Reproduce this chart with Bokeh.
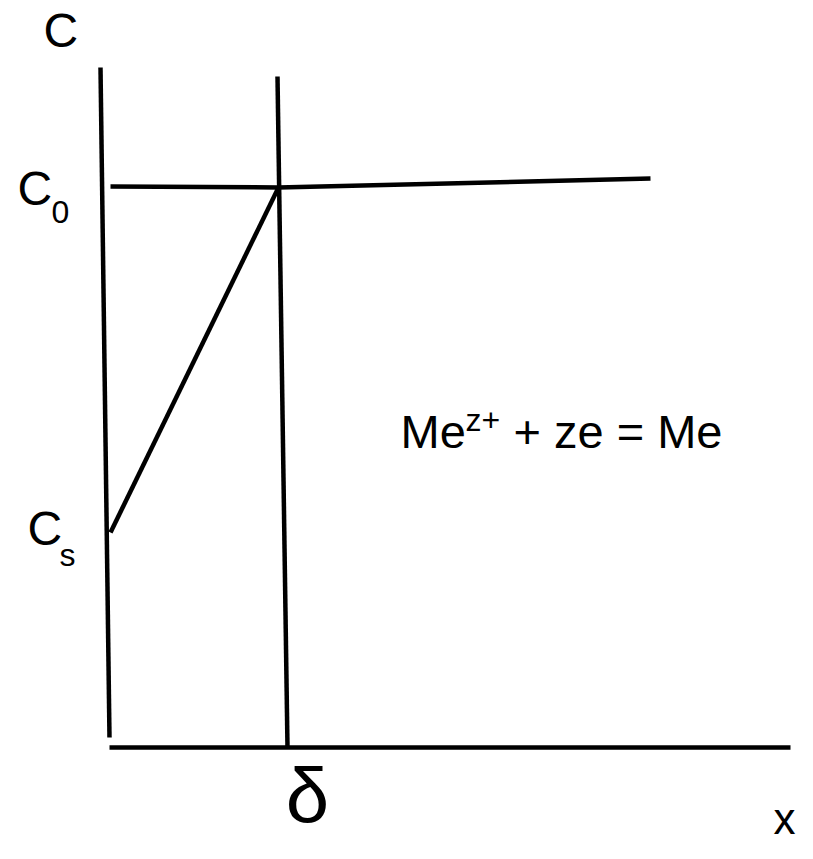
from bokeh.plotting import figure
from bokeh.models import Range1d
from bokeh.core.properties import value
from bokeh.embed import file_html
from bokeh.resources import INLINE

# Diagram coordinates: x = distance from electrode, C = concentration (arbitrary units)
c_axis_x = [-9, 0]
c_axis_c = [680, 10]
delta_x = [168, 178]
delta_c = [671, 0]
x_axis_x = [0, 681]
x_axis_c = [0, 0]
bulk_x = [1, 169, 541]
bulk_c = [561, 560, 569]
grad_x = [1, 169]
grad_c = [215, 560]

# labels (anchored at the vertical middle of the glyphs)
main_labels = ["C", "C", "C"]
main_x = [-66, -92, -82]
main_c = [717, 559, 219]
eq_labels = ["Me", "+ ze = Me"]
eq_x = [291, 404]
eq_c = [316, 316]
sub_labels = ["0", "s"]
sub_x = [-58, -50]
sub_c = [536, 193]
sup_labels = ["z+"]
sup_x = [356]
sup_c = [328]
delta_label = ["δ"]
delta_lx = [198]
delta_lc = [-48]
xlab = ["x"]
xlab_x = [686]
xlab_c = [-71]

FONT = value("Liberation Sans")

p = figure(width=797, height=843, output_backend="svg", toolbar_location=None,
           x_range=Range1d(-109, 688), y_range=Range1d(-96, 747), min_border=0)
p.axis.visible = False
p.grid.visible = False
p.outline_line_color = None
p.background_fill_color = "white"

for xs, cs in [(c_axis_x, c_axis_c), (delta_x, delta_c), (x_axis_x, x_axis_c),
               (bulk_x, bulk_c), (grad_x, grad_c)]:
    p.line(xs, cs, line_color="black", line_width=4.5)

def label(xs, ys, texts, size, align="left"):
    p.text(x=xs, y=ys, text=texts, text_font=FONT, text_font_size=size,
           text_baseline="middle", text_align=align, text_color="black")

label(main_x, main_c, main_labels, "48px")
label(eq_x, eq_c, eq_labels, "47px")
label(sub_x, sub_c, sub_labels, "32px")
label(sup_x, sup_c, sup_labels, "32px")
label(delta_lx, delta_lc, delta_label, "78px", align="center")
label(xlab_x, xlab_c, xlab, "44px", align="right")

open("out.html", "w").write(file_html(p, INLINE))
